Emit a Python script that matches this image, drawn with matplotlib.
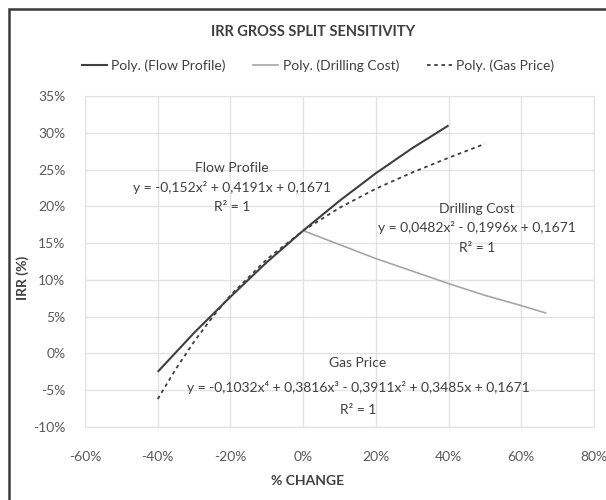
import matplotlib
matplotlib.use("Agg")
import matplotlib.pyplot as plt
from matplotlib.ticker import PercentFormatter, MultipleLocator
from matplotlib.patches import Rectangle
from matplotlib.lines import Line2D

plt.rcParams['font.family'] = ['Lato', 'DejaVu Sans']
plt.rcParams['axes.unicode_minus'] = False

# Flow Profile trendline
flow_x = [-0.40, -0.30, -0.20, -0.10, 0.00, 0.10, 0.20, 0.30, 0.40]
flow_y = [-0.025, 0.028, 0.077, 0.124, 0.167, 0.2075, 0.245, 0.279, 0.310]

# Drilling Cost trendline
drill_x = [0.00, 0.10, 0.20, 0.30, 0.40, 0.50, 0.60, 0.667]
drill_y = [0.167, 0.148, 0.129, 0.112, 0.095, 0.079, 0.065, 0.055]

# Gas Price trendline
gas_x = [-0.40, -0.35, -0.30, -0.25, -0.20, -0.10, 0.00, 0.10, 0.20, 0.30, 0.40, 0.50]
gas_y = [-0.062, -0.021, 0.016, 0.049, 0.079, 0.128, 0.167, 0.198, 0.224, 0.246, 0.266, 0.285]

title = "IRR GROSS SPLIT SENSITIVITY"
legend_labels = ["Poly. (Flow Profile)", "Poly. (Drilling Cost)", "Poly. (Gas Price)"]

W, H = 606, 500
fig = plt.figure(figsize=(W / 100, H / 100), dpi=100)
fig.patch.set_facecolor("white")

# outer chart border (top & left visible)
fig.patches.append(Rectangle((9 / W, -0.1), 1.2, 1.1 - 9 / H,
                             transform=fig.transFigure, fill=False,
                             edgecolor="#3a3a3a", linewidth=1.8))

ax = fig.add_axes([85 / W, (H - 427) / H, (594 - 85) / W, (427 - 96) / H])
ax.set_xlim(-0.6, 0.8)
ax.set_ylim(-0.10, 0.35)
ax.xaxis.set_major_locator(MultipleLocator(0.2))
ax.yaxis.set_major_locator(MultipleLocator(0.05))
ax.xaxis.set_major_formatter(PercentFormatter(1.0, decimals=0))
ax.yaxis.set_major_formatter(PercentFormatter(1.0, decimals=0))
ax.grid(True, color="#e3e3e3", linewidth=1.0)
ax.set_axisbelow(True)
for s in ax.spines.values():
    s.set_visible(True)
    s.set_color("#e3e3e3")
ax.tick_params(length=0, labelsize=10, colors="#595959")
ax.tick_params(axis="y", pad=14)
ax.tick_params(axis="x", pad=17)

ax.plot(flow_x, flow_y, color="#3f3f3f", linewidth=1.5, solid_capstyle="butt")
ax.plot(drill_x, drill_y, color="#a6a6a6", linewidth=1.2)
ax.plot(gas_x, gas_y, color="#3f3f3f", linewidth=1.3, linestyle=(0, (2.0, 2.0)))

tkw = dict(ha="center", va="center", fontsize=10, color="#404040")
ax.text(-0.196, 0.252, "Flow Profile", **tkw)
ax.text(-0.196, 0.225, "y = -0,152x² + 0,4191x + 0,1671", **tkw)
ax.text(-0.196, 0.199, "R² = 1", **tkw)
ax.text(0.478, 0.196, "Drilling Cost", **tkw)
ax.text(0.478, 0.171, "y = 0,0482x² - 0,1996x + 0,1671", **tkw)
ax.text(0.478, 0.143, "R² = 1", **tkw)
ax.text(0.151, -0.013, "Gas Price", **tkw)
ax.text(0.151, -0.046, "y = -0,1032x⁴ + 0,3816x³ - 0,3911x² + 0,3485x + 0,1671", **tkw)
ax.text(0.151, -0.077, "R² = 1", **tkw)

ax.set_xlabel("% CHANGE", fontsize=10, fontweight="bold", color="#404040")
ax.set_ylabel("IRR (%)", fontsize=10, fontweight="bold", color="#404040")
ax.xaxis.set_label_coords((308 - 85) / 509, (427 - 475) / 331)
ax.yaxis.set_label_coords((29 - 85) / 509, (427 - 278) / 331)

fig.text(313 / W, 1 - 32 / H, title, ha="center", va="center",
         fontsize=10.5, fontweight="bold", color="#404040")

handles = [Line2D([], [], color="#3f3f3f", linewidth=1.5),
           Line2D([], [], color="#a6a6a6", linewidth=1.2),
           Line2D([], [], color="#3f3f3f", linewidth=1.3, linestyle=(0, (2.0, 2.0)))]
fig.legend(handles, legend_labels, loc="center", bbox_to_anchor=(318 / W, 1 - 66 / H),
           ncol=3, frameon=False, fontsize=10, handlelength=1.8, handletextpad=0.3,
           columnspacing=2.0, labelcolor="#404040")

fig.savefig("out.png", dpi=100, facecolor="white")
